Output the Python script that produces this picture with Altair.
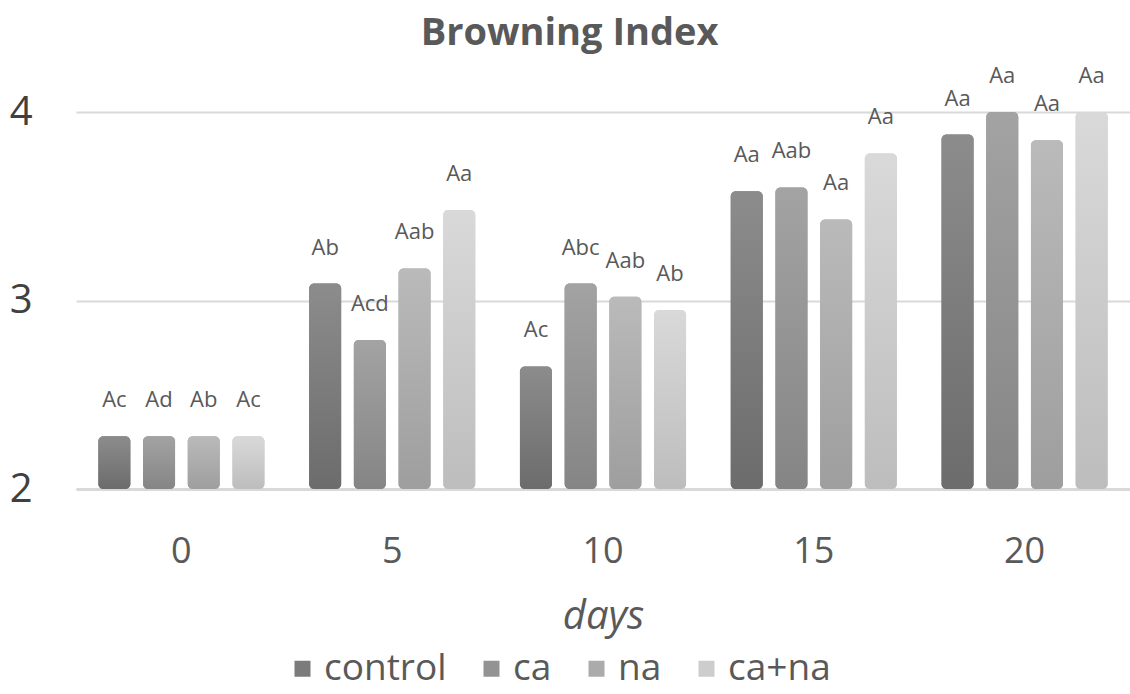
import altair as alt
import pandas as pd

days = ["0", "5", "10", "15", "20"]
series = ["control", "ca", "na", "ca+na"]
values = {
    "control": [2.28, 3.09, 2.65, 3.58, 3.88],
    "ca":      [2.28, 2.79, 3.09, 3.60, 4.00],
    "na":      [2.28, 3.17, 3.02, 3.43, 3.85],
    "ca+na":   [2.28, 3.48, 2.95, 3.78, 4.00],
}
labels = {
    "control": ["Ac", "Ab", "Ac", "Aa", "Aa"],
    "ca":      ["Ad", "Acd", "Abc", "Aab", "Aa"],
    "na":      ["Ab", "Aab", "Aab", "Aa", "Aa"],
    "ca+na":   ["Ac", "Aa", "Ab", "Aa", "Aa"],
}
y_ticks = [2, 3, 4]

rows = []
for s in series:
    for i, d in enumerate(days):
        rows.append({"day": d, "series": s, "value": values[s][i], "label": labels[s][i]})
df = pd.DataFrame(rows)

solid = ["#7b7b7b", "#939393", "#ababab", "#cdcdcd"]
grads = [("#8c8c8c", "#6c6c6c"), ("#a3a3a3", "#858585"), ("#bababa", "#9e9e9e"), ("#d9d9d9", "#bdbdbd")]
FONT = "Open Sans"

x = alt.X("day:N", sort=days, scale=alt.Scale(paddingInner=0, paddingOuter=0),
          axis=alt.Axis(title="days", labelAngle=0, labelFontSize=36, labelColor="#595959",
                        labelFont=FONT, labelPadding=45, ticks=False, domain=True,
                        domainColor="#d9d9d9", domainWidth=3,
                        titleFontSize=40, titleFontStyle="italic", titleFontWeight="normal",
                        titleColor="#595959", titleFont=FONT, titlePadding=27))
xo = alt.XOffset("series:N", sort=series, scale=alt.Scale(paddingInner=0.284, paddingOuter=0.5))
y = alt.Y("value:Q", scale=alt.Scale(domain=[2, 4], nice=False, zero=False),
          axis=alt.Axis(values=y_ticks, labelExpr="datum.value", title=None, labelFontSize=40,
                        labelColor="#404040", labelFont=FONT, labelPadding=44, ticks=False,
                        domain=False, gridColor="#d9d9d9", gridWidth=2))
y2 = alt.Y2(datum=2)

base = alt.Chart(df)

legend_bars = base.mark_bar(cornerRadius=5).encode(
    x=x, xOffset=xo, y=y, y2=y2,
    color=alt.Color("series:N", sort=series,
                    scale=alt.Scale(domain=series, range=solid),
                    legend=alt.Legend(title=None, orient="none", legendX=208, legendY=538,
                                      direction="horizontal",
                                      symbolType="square", symbolSize=256, symbolStrokeWidth=0,
                                      labelFontSize=37, labelColor="#595959", labelFont=FONT,
                                      labelOffset=3, columnPadding=26)),
)

layers = [legend_bars]
for s, (top, bot) in zip(series, grads):
    layers.append(
        base.transform_filter(alt.datum.series == s).mark_bar(
            cornerRadius=5,
            fill=alt.Gradient(gradient="linear", x1=0, x2=0, y1=0, y2=1,
                              stops=[alt.GradientStop(offset=0, color=top),
                                     alt.GradientStop(offset=1, color=bot)]),
        ).encode(x=x, xOffset=xo, y=y, y2=y2)
    )

text = base.mark_text(dy=-36, baseline="middle", fontSize=22, color="#595959", font=FONT).encode(
    x=x, xOffset=xo, y=y, text="label:N"
)
layers.append(text)

chart = alt.layer(*layers).properties(
    width=1054, height=377,
    title=alt.Title("Browning Index", fontSize=38, fontWeight="bold", color="#595959",
                    font=FONT, anchor="middle", frame="bounds", offset=12),
    autosize=alt.AutoSizeParams(type="none"),
    padding={"left": 76, "top": 112, "right": 0, "bottom": 205},
).configure_view(stroke=None)

chart.save("out.html", embed_options={"renderer": "svg", "actions": False})
